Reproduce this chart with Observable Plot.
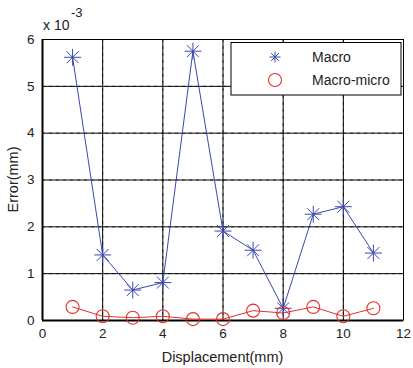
<!DOCTYPE html>
<html>
<head>
<meta charset="utf-8">
<script src="https://cdn.jsdelivr.net/npm/d3@7"></script>
<script src="https://cdn.jsdelivr.net/npm/@observablehq/plot@0.6"></script>
<style>
  html, body { margin: 0; padding: 0; background: #fff; }
  #chart { position: relative; width: 413px; height: 368px; }
</style>
</head>
<body>
<div id="chart"></div>
<script>
const displacement = [1, 2, 3, 4, 5, 6, 7, 8, 9, 10, 11];
const macro = [5.62, 1.40, 0.65, 0.81, 5.75, 1.91, 1.50, 0.26, 2.27, 2.43, 1.44];
const macroMicro = [0.29, 0.09, 0.06, 0.09, 0.03, 0.03, 0.21, 0.16, 0.29, 0.09, 0.26];
const xTicks = [0, 2, 4, 6, 8, 10, 12];
const yTicks = [0, 1, 2, 3, 4, 5, 6];
const seriesNames = ["Macro", "Macro-micro"];

const blue = "#3a48b0";
const red = "#e8302a";

const macroData = displacement.map((x, i) => ({x, y: macro[i]}));
const mmData = displacement.map((x, i) => ({x, y: macroMicro[i]}));

const W = 413, H = 368, mL = 42, mR = 10, mT = 39, mB = 48;

const chart = Plot.plot({
  width: W, height: H,
  marginLeft: mL, marginRight: mR, marginTop: mT, marginBottom: mB,
  style: {fontFamily: "'Liberation Sans', Arial, sans-serif", fontSize: "13.5px", color: "#222", background: "#fff"},
  x: {domain: [0, 12], ticks: xTicks, tickFormat: d3.format("d"), label: null, tickSize: 0, tickPadding: 8},
  y: {domain: [0, 6], ticks: yTicks, tickFormat: d3.format("d"), label: null, tickSize: 0, tickPadding: 8},
  marks: [
    Plot.ruleX(xTicks.filter(d => d > 0 && d < 12), {x: d => d, stroke: "#555", strokeWidth: 1, strokeDasharray: "3,4"}),
    Plot.ruleY(yTicks.filter(d => d > 0 && d < 6), {y: d => d, stroke: "#555", strokeWidth: 1, strokeDasharray: "3,4"}),
    Plot.frame({stroke: "#555", strokeWidth: 1}),
    Plot.ruleX([0], {stroke: "#000", strokeWidth: 2}),
    Plot.ruleY([0], {stroke: "#000", strokeWidth: 2}),
    Plot.tickX(xTicks, {x: d => d, y1: 0, y2: 0.1, stroke: "#000"}),
    Plot.tickY(yTicks, {y: d => d, x1: 0, x2: 0.08, stroke: "#000"}),
    Plot.line(macroData, {x: "x", y: "y", stroke: blue, strokeWidth: 1}),
    Plot.dot(macroData, {x: "x", y: "y", symbol: "plus", r: 5.5, stroke: blue, strokeWidth: 1}),
    Plot.dot(macroData, {x: "x", y: "y", symbol: "times", r: 5.5, stroke: blue, strokeWidth: 1}),
    Plot.line(mmData, {x: "x", y: "y", stroke: red, strokeWidth: 1}),
    Plot.dot(mmData, {x: "x", y: "y", symbol: "circle", r: 6.5, stroke: red, fill: "none", strokeWidth: 1.1})
  ]
});

document.getElementById("chart").appendChild(chart);

const svg = d3.select(chart);
const font = "'Liberation Sans', Arial, sans-serif";

// exponent label
svg.append("text").attr("x", 43).attr("y", 30).attr("text-anchor", "start")
  .attr("font-family", font).attr("font-size", 14).attr("fill", "#222").text("x 10");
svg.append("text").attr("x", 71).attr("y", 17).attr("text-anchor", "start").attr("font-family", font)
  .attr("font-size", 13).attr("fill", "#222").text("-3");

// axis labels
svg.append("text").attr("x", (mL + W - mR) / 2).attr("y", 362)
  .attr("text-anchor", "middle").attr("font-family", font).attr("font-size", 14.5)
  .attr("fill", "#222").text("Displacement(mm)");
svg.append("text").attr("transform", `translate(18,${(mT + H - mB) / 2}) rotate(-90)`)
  .attr("text-anchor", "middle").attr("font-family", font).attr("font-size", 14.5)
  .attr("fill", "#222").text("Error(mm)");

// legend
const lg = svg.append("g");
lg.append("rect").attr("x", 231).attr("y", 42.5).attr("width", 170).attr("height", 52.5)
  .attr("fill", "#fff").attr("stroke", "#000").attr("stroke-width", 1);
const rows = [57, 80];
seriesNames.forEach((name, i) => {
  const cy = rows[i];
  if (i === 0) {
    const r = 5.5;
    lg.append("path").attr("d", `M${275 - r},${cy}H${275 + r}M275,${cy - r}V${cy + r}M${275 - r * 0.7},${cy - r * 0.7}L${275 + r * 0.7},${cy + r * 0.7}M${275 - r * 0.7},${cy + r * 0.7}L${275 + r * 0.7},${cy - r * 0.7}`)
      .attr("stroke", blue).attr("fill", "none");
  } else {
    lg.append("circle").attr("cx", 275).attr("cy", cy).attr("r", 6.5)
      .attr("stroke", red).attr("fill", "none").attr("stroke-width", 1.1);
  }
  lg.append("text").attr("x", 312).attr("y", cy + 5).attr("text-anchor", "start").attr("font-family", font)
    .attr("font-size", 14).attr("fill", "#222").text(name);
});
</script>
</body>
</html>
